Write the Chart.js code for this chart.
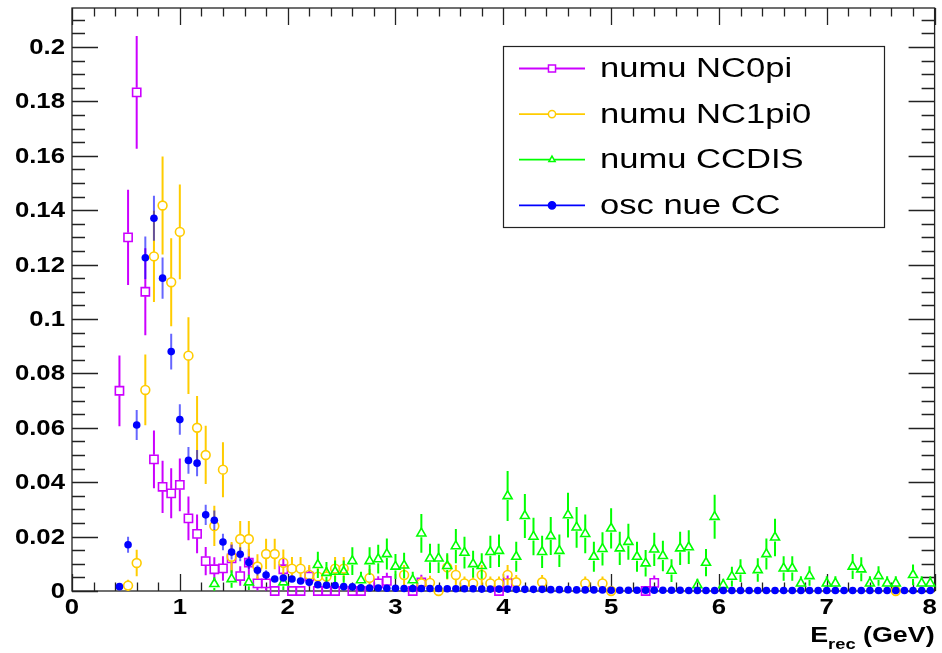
<!DOCTYPE html>
<html lang="en">
<head>
    <meta charset="UTF-8">
    <title>E_rec distributions</title>
    <script src="https://cdn.jsdelivr.net/npm/chart.js"></script>
    <style>
        body { margin: 0; background: #fff; }
    </style>
</head>
<body>
    <canvas id="myChart" width="942" height="653"></canvas>

    <script>
        // binning: 100 bins from 0 to 8 GeV
        const nBins = 100;
        const eMax = 8;
        const binCenters = Array.from({ length: nBins }, (_, i) => +((i + 0.5) * eMax / nBins).toFixed(2));

        const xTicks = [0, 1, 2, 3, 4, 5, 6, 7, 8];
        const yTicks = [0, 0.02, 0.04, 0.06, 0.08, 0.1, 0.12, 0.14, 0.16, 0.18, 0.2];
        const yMax = 0.2143;

        const seriesNames = ["numu NC0pi", "numu NC1pi0", "numu CCDIS", "osc nue CC"];

        // numu NC0pi
        const nc0piE = [0.44, 0.52, 0.60, 0.68, 0.76, 0.84, 0.92, 1.00, 1.08, 1.16, 1.24, 1.32, 1.40, 1.48, 1.56, 1.64, 1.72, 1.80, 1.88, 1.96,
                        2.04, 2.12, 2.20, 2.28, 2.36, 2.44, 2.60, 2.68, 2.84, 2.92, 3.16, 3.24, 3.96, 4.04, 5.32, 5.40];
        const nc0piY = [0.0736, 0.130, 0.1833, 0.110, 0.0484, 0.0383, 0.0359, 0.039, 0.0267, 0.021, 0.011, 0.008, 0.0083, 0.012, 0.0055, 0.0104, 0.0028, 0.0028, 0, 0.008,
                        0, 0, 0.0053, 0, 0, 0, 0, 0, 0.0028, 0.0037, 0, 0.0032, 0, 0.003, 0, 0.003];
        const nc0piErr = [0.013, 0.0175, 0.0207, 0.016, 0.0106, 0.0096, 0.0092, 0.0097, 0.008, 0.0071, 0.0052, 0.0044, 0.0045, 0.0054, 0.0036, 0.005, 0.0026, 0.0026, 0, 0.0044,
                          0, 0, 0.0036, 0, 0, 0, 0, 0, 0.0026, 0.003, 0, 0.0028, 0, 0.0027, 0, 0.0027];

        // numu NC1pi0
        const nc1pi0E = [0.52, 0.60, 0.68, 0.76, 0.84, 0.92, 1.00, 1.08, 1.16, 1.24, 1.32, 1.40, 1.48, 1.56, 1.64, 1.72, 1.80, 1.88, 1.96, 2.04,
                         2.12, 2.20, 2.28, 2.36, 2.44, 2.52, 2.76, 3.08, 3.24, 3.32, 3.40, 3.48, 3.56, 3.64, 3.72, 3.80, 3.88, 3.96, 4.04, 4.12,
                         4.36, 4.76, 4.92, 5.00, 7.64];
        const nc1pi0Y = [0.002, 0.0103, 0.0739, 0.123, 0.1417, 0.1135, 0.132, 0.0865, 0.060, 0.050, 0.0239, 0.0446, 0.0126, 0.0191, 0.0191, 0.009, 0.0136, 0.0136, 0.0104, 0.0082,
                         0.0082, 0.0059, 0.0053, 0.0053, 0.0082, 0.0082, 0.0048, 0.0059, 0.0028, 0.003, 0, 0.0087, 0.0059, 0.0028, 0.0028, 0.0059, 0.0028, 0.0028, 0.0059, 0.0032,
                         0.0032, 0.0028, 0.0028, 0, 0];
        const nc1pi0Err = [0.0021, 0.0049, 0.013, 0.0168, 0.018, 0.0162, 0.0174, 0.0141, 0.0117, 0.0107, 0.0074, 0.0101, 0.0054, 0.0066, 0.0066, 0.0045, 0.0056, 0.0056, 0.0049, 0.0043,
                           0.0043, 0.0037, 0.0035, 0.0035, 0.0043, 0.0043, 0.0033, 0.0037, 0.0025, 0.0026, 0, 0.0045, 0.0037, 0.0025, 0.0025, 0.0037, 0.0025, 0.0025, 0.0037, 0.0027,
                           0.0027, 0.0025, 0.0025, 0, 0];

        // numu CCDIS
        const ccdisE = [1.32, 1.48, 1.64, 1.96, 2.28, 2.36, 2.44, 2.52, 2.60, 2.68, 2.76, 2.84, 2.92, 3.00, 3.08, 3.16, 3.24, 3.32, 3.40, 3.48,
                        3.56, 3.64, 3.72, 3.80, 3.88, 3.96, 4.04, 4.12, 4.20, 4.28, 4.36, 4.44, 4.52, 4.60, 4.68, 4.76, 4.84, 4.92, 5.00, 5.08,
                        5.16, 5.24, 5.32, 5.40, 5.48, 5.56, 5.64, 5.72, 5.80, 5.88, 5.96, 6.04, 6.12, 6.20, 6.36, 6.44, 6.52, 6.60, 6.68, 6.76,
                        6.84, 7.00, 7.08, 7.24, 7.32, 7.40, 7.48, 7.56, 7.64, 7.80, 7.88, 7.96];
        const ccdisY = [0.0026, 0.0044, 0.0032, 0.0032, 0.0096, 0.0067, 0.0071, 0.0071, 0.011, 0.004, 0.011, 0.0117, 0.0136, 0.009, 0.0094, 0.004, 0.0212, 0.012, 0.012, 0.0092,
                        0.0165, 0.0141, 0.0099, 0.0092, 0.0144, 0.0148, 0.0349, 0.0126, 0.0276, 0.020, 0.0144, 0.0202, 0.0148, 0.0279, 0.0234, 0.021, 0.0126, 0.0155, 0.023, 0.0157,
                        0.0181, 0.0126, 0.0102, 0.0153, 0.0129, 0.0075, 0.0157, 0.0161, 0.0022, 0.0104, 0.0273, 0.0022, 0.0053, 0.0075, 0.0077, 0.0136, 0.0197, 0.0083, 0.0083, 0.0028,
                        0.0055, 0.0028, 0.0028, 0.009, 0.008, 0.0028, 0.0055, 0.0028, 0.0028, 0.0059, 0.0028, 0.0028];
        const ccdisErr = [0.0025, 0.0032, 0.0028, 0.0028, 0.0048, 0.004, 0.0041, 0.0041, 0.0051, 0.0031, 0.0051, 0.0053, 0.0057, 0.0046, 0.0047, 0.0031, 0.0071, 0.0054, 0.0054, 0.0047,
                          0.0063, 0.0058, 0.0049, 0.0047, 0.0059, 0.006, 0.0092, 0.0055, 0.0081, 0.0069, 0.0059, 0.007, 0.006, 0.0082, 0.0075, 0.0071, 0.0055, 0.0061, 0.0074, 0.0061,
                          0.0066, 0.0055, 0.0049, 0.0061, 0.0056, 0.0042, 0.0061, 0.0062, 0.0023, 0.005, 0.0081, 0.0023, 0.0036, 0.0042, 0.0043, 0.0057, 0.0069, 0.0045, 0.0045, 0.0026,
                          0.0036, 0.0026, 0.0026, 0.0046, 0.0044, 0.0026, 0.0036, 0.0026, 0.0026, 0.0038, 0.0026, 0.0026];

        // osc nue CC (every bin from 0.44 GeV on)
        const nueE = binCenters.slice(5);
        const nueY = [0.0016, 0.017, 0.061, 0.1225, 0.137, 0.115, 0.088, 0.063, 0.048, 0.047, 0.028, 0.026, 0.018, 0.0143, 0.0135, 0.0105, 0.0076, 0.0059, 0.0044, 0.0048,
                      0.0044, 0.0037, 0.0032, 0.0023, 0.0021, 0.002, 0.0016, 0.0015, 0.0012, 0.0011, 0.0011, 0.001, 0.001, 0.0009, 0.0009, 0.0009, 0.0009, 0.0009, 0.0008, 0.0008,
                      0.0008, 0.0008, 0.0007, 0.0007, 0.0007, 0.0007, 0.0006, 0.0006, 0.0006, 0.0006, 0.0005, 0.0005, 0.0005, 0.0004, 0.0004, 0.0004, 0.0004, 0.0003, 0.0003, 0.0003,
                      0.0003, 0.0003, 0.0003, 0.0003, 0.0003, 0.0003, 0.0002, 0.0002, 0.0002, 0.0002, 0.0002, 0.0002, 0.0002, 0.0002, 0.0002, 0.0002, 0.0002, 0.0002, 0.0002, 0.0002,
                      0.0002, 0.0002, 0.0002, 0.0002, 0.0002, 0.0002, 0.0002, 0.0002, 0.0002, 0.0002, 0.0002, 0.0002, 0.0002, 0.0002, 0.0002];
        const nueErr = [0.0009, 0.0029, 0.0055, 0.0078, 0.0083, 0.0076, 0.0066, 0.0056, 0.0049, 0.0048, 0.0037, 0.0036, 0.003, 0.0027, 0.0026, 0.0023, 0.0019, 0.0017];

        const colors = ["#cc00ff", "#ffcc00", "#00ff00", "#0000ff"];

        const FONT = '"Liberation Sans", "Helvetica", Arial, sans-serif';

        function points(xs, ys) {
            return xs.map((x, i) => ({ x: x, y: ys[i] }));
        }

        const errorSets = [nc0piErr, nc1pi0Err, ccdisErr, nueErr];
        const errorGap = [4.5, 4.5, 4, 0];

        // text with a horizontal stretch, like the ROOT canvas
        function stretchText(ctx, text, x, y, font, align, sx) {
            ctx.save();
            ctx.font = font;
            ctx.textAlign = align;
            ctx.translate(x, y);
            ctx.scale(sx, 1);
            ctx.fillText(text, 0, 0);
            ctx.restore();
        }

        const rootStyle = {
            id: 'rootStyle',
            beforeDatasetsDraw(chart) {
                const ctx = chart.ctx;
                const a = chart.chartArea;
                const xs = chart.scales.x, ys = chart.scales.y;
                ctx.save();
                ctx.strokeStyle = '#222';
                ctx.lineWidth = 1.3;
                ctx.strokeRect(a.left, a.top, a.right - a.left, a.bottom - a.top);

                ctx.beginPath();
                // x ticks, bottom and top, inward
                for (let k = 0; k <= 40; k++) {
                    const v = k * 0.2;
                    const px = Math.round(xs.getPixelForValue(v)) + 0.5;
                    const len = (k % 5 === 0) ? 17 : 8.5;
                    ctx.moveTo(px, a.bottom); ctx.lineTo(px, a.bottom - len);
                    ctx.moveTo(px, a.top); ctx.lineTo(px, a.top + len);
                }
                // y ticks, left and right, inward
                for (let k = 0; k * 0.005 <= yMax; k++) {
                    const v = k * 0.005;
                    const py = Math.round(ys.getPixelForValue(v)) + 0.5;
                    const len = (k % 4 === 0) ? 26 : 13;
                    ctx.moveTo(a.left, py); ctx.lineTo(a.left + len, py);
                    ctx.moveTo(a.right, py); ctx.lineTo(a.right - len, py);
                }
                ctx.stroke();
                ctx.restore();
            },
            beforeDatasetDraw(chart, args) {
                const errs = errorSets[args.index];
                const ds = chart.data.datasets[args.index];
                const ys = chart.scales.y;
                const a = chart.chartArea;
                const gap = errorGap[args.index];
                const ctx = chart.ctx;
                ctx.save();
                ctx.strokeStyle = ds.borderColor;
                ctx.globalAlpha = args.index === 3 ? 0.6 : 1;
                ctx.lineWidth = 2;
                ctx.beginPath();
                args.meta.data.forEach((pt, j) => {
                    const e = errs[j];
                    if (!e) return;
                    const v = ds.data[j].y;
                    const top = ys.getPixelForValue(v + e);
                    const bot = Math.min(ys.getPixelForValue(v - e), a.bottom);
                    if (gap > 0) {
                        if (pt.y - gap > top) { ctx.moveTo(pt.x, top); ctx.lineTo(pt.x, pt.y - gap); }
                        if (pt.y + gap < bot) { ctx.moveTo(pt.x, pt.y + gap); ctx.lineTo(pt.x, bot); }
                    } else {
                        ctx.moveTo(pt.x, top); ctx.lineTo(pt.x, bot);
                    }
                });
                ctx.stroke();
                ctx.restore();
            },
            afterDraw(chart) {
                const ctx = chart.ctx;
                const a = chart.chartArea;
                const xs = chart.scales.x, ys = chart.scales.y;
                ctx.save();
                ctx.fillStyle = '#000';
                ctx.textBaseline = 'middle';

                // y labels
                yTicks.forEach(v => {
                    const label = String(+v.toFixed(2));
                    stretchText(ctx, label, 65, ys.getPixelForValue(v) + 1, 'bold 22px ' + FONT, 'right', 1.17);
                });
                // x labels
                xTicks.forEach(v => {
                    let px = xs.getPixelForValue(v);
                    if (v === 8) px -= 5;
                    stretchText(ctx, String(v), px, 608, 'bold 22px ' + FONT, 'center', 1.17);
                });

                // axis title, right aligned: E_rec (GeV)
                ctx.textBaseline = 'alphabetic';
                const sx = 1.22;
                ctx.font = 'bold 22px ' + FONT;
                const wTail = ctx.measureText(' (GeV)').width * sx;
                const wE = ctx.measureText('E').width * sx;
                ctx.font = 'bold 15px ' + FONT;
                const wSub = ctx.measureText('rec').width * sx;
                let tx = a.right - wTail - wSub - wE;
                stretchText(ctx, 'E', tx, 642, 'bold 22px ' + FONT, 'left', sx);
                stretchText(ctx, 'rec', tx + wE, 649, 'bold 15px ' + FONT, 'left', sx);
                stretchText(ctx, ' (GeV)', tx + wE + wSub, 642, 'bold 22px ' + FONT, 'left', sx);

                // legend box
                const lx = 503, ly = 46, lw = 381, lh = 181;
                ctx.fillStyle = '#fff';
                ctx.fillRect(lx, ly, lw, lh);
                ctx.strokeStyle = '#222';
                ctx.lineWidth = 1.2;
                ctx.strokeRect(lx + 0.5, ly + 0.5, lw, lh);

                chart.data.datasets.forEach((ds, i) => {
                    const cy = 68.5 + i * 45.6;
                    ctx.strokeStyle = ds.borderColor;
                    ctx.lineWidth = 1.8;
                    ctx.beginPath();
                    ctx.moveTo(519, cy); ctx.lineTo(585, cy);
                    ctx.stroke();
                    ctx.fillStyle = i === 3 ? ds.borderColor : '#fff';
                    ctx.lineWidth = 1.5;
                    Chart.helpers.drawPoint(ctx, {
                        pointStyle: ds.pointStyle,
                        radius: ds.pointStyle === 'rect' ? 5 : 3.6,
                        rotation: 0,
                        borderWidth: 1.5
                    }, 552, cy);
                    ctx.fillStyle = '#000';
                    ctx.textBaseline = 'middle';
                    stretchText(ctx, ds.label, 600, cy + 1, '27px ' + FONT, 'left', 1.28);
                });
                ctx.restore();
            }
        };

        const datasets = [
            { label: seriesNames[0], data: points(nc0piE, nc0piY), pointStyle: 'rect', pointRadius: 5.8, borderWidth: 1.6, order: 3 },
            { label: seriesNames[1], data: points(nc1pi0E, nc1pi0Y), pointStyle: 'circle', pointRadius: 4.4, borderWidth: 1.6, order: 2 },
            { label: seriesNames[2], data: points(ccdisE, ccdisY), pointStyle: 'triangle', pointRadius: 5.2, borderWidth: 1.6, order: 1 },
            { label: seriesNames[3], data: points(nueE, nueY), pointStyle: 'circle', pointRadius: 3.8, borderWidth: 0, order: 0 }
        ];
        datasets.forEach((ds, i) => {
            ds.borderColor = colors[i];
            ds.backgroundColor = i === 3 ? colors[i] : 'rgba(0,0,0,0)';
            ds.pointBorderColor = colors[i];
            ds.pointBackgroundColor = ds.backgroundColor;
            ds.showLine = false;
            ds.clip = false;
        });

        const configs = {
            type: 'scatter',
            data: { datasets: datasets },
            options: {
                responsive: false,
                animation: false,
                events: [],
                devicePixelRatio: 1,
                layout: { padding: { left: 72, right: 5, top: 8, bottom: 62 } },
                scales: {
                    x: { type: 'linear', min: 0, max: eMax, display: false },
                    y: { type: 'linear', min: 0, max: yMax, display: false }
                },
                plugins: {
                    legend: { display: false },
                    tooltip: { enabled: false }
                }
            },
            plugins: [rootStyle]
        };

        new Chart(document.getElementById('myChart'), configs);
    </script>
</body>
</html>
